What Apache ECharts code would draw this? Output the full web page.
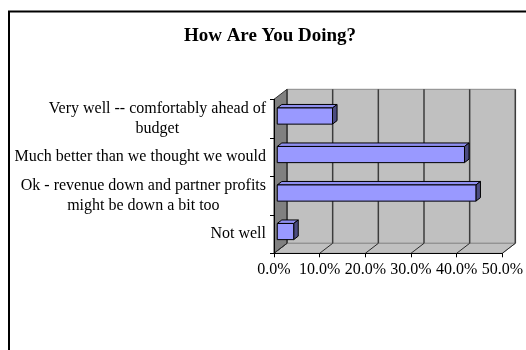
<!DOCTYPE html>
<html>
<head>
<meta charset="utf-8">
<script src="https://cdn.jsdelivr.net/npm/echarts@6/dist/echarts.min.js"></script>
<style>html,body{margin:0;padding:0;background:#fff}#c{width:526px;height:350px}</style>
</head>
<body>
<div id="c"></div>
<script>
var title = 'How Are You Doing?';
var categories = [
  'Very well -- comfortably ahead of budget',
  'Much better than we thought we would',
  'Ok - revenue down and partner profits might be down a bit too',
  'Not well'
];
var values = [0.121, 0.410, 0.435, 0.036];
var ticks = [0, 0.1, 0.2, 0.3, 0.4, 0.5];

var DX = 13, DY = -10;
var FONT = '"Liberation Serif", "Times New Roman", serif';
var LABEL_MAX = 256;

var measureCtx = document.createElement('canvas').getContext('2d');
measureCtx.font = '16px ' + FONT;
function wrapLabel(text) {
  var words = text.split(' ');
  var lines = [], cur = '';
  words.forEach(function (w) {
    var test = cur ? cur + ' ' + w : w;
    if (cur && measureCtx.measureText(test).width > LABEL_MAX) {
      lines.push(cur); cur = w;
    } else { cur = test; }
  });
  if (cur) lines.push(cur);
  return lines.map(function (l) { return '{c|' + l + '}'; }).join('\n');
}

var chart = echarts.init(document.getElementById('c'), null, {renderer: 'canvas'});

function wallsItem(params, api) {
  var cs = params.coordSys;
  var x0 = cs.x, y0 = cs.y, x1 = cs.x + cs.width, y1 = cs.y + cs.height;
  var children = [];
  var t = api.value(0);
  var p = api.coord([t, 0]);
  var x = p[0];
  if (params.dataIndex === 0) {
    children.push({type: 'rect', shape: {x: x0 + DX, y: y0 + DY, width: cs.width, height: cs.height},
      style: {fill: '#c0c0c0', stroke: '#8a8a8a', lineWidth: 1}});
    children.push({type: 'polygon', shape: {points: [[x0, y1], [x0 + DX, y1 + DY], [x1 + DX, y1 + DY], [x1, y1]]},
      style: {fill: '#c0c0c0', stroke: '#8a8a8a', lineWidth: 1}});
    children.push({type: 'polygon', shape: {points: [[x0, y0], [x0 + DX, y0 + DY], [x0 + DX, y1 + DY], [x0, y1]]},
      style: {fill: '#808080', stroke: '#333', lineWidth: 1}});
  }
  children.push({type: 'line', shape: {x1: x + DX, y1: y0 + DY, x2: x + DX, y2: y1 + DY},
    style: {stroke: '#3c3c3c', lineWidth: 1.5}});
  children.push({type: 'line', shape: {x1: x, y1: y1, x2: x + DX, y2: y1 + DY},
    style: {stroke: '#2a2a2a', lineWidth: 1}});
  return {type: 'group', children: children};
}

function barItem(params, api) {
  var v = api.value(0), i = api.value(1);
  var s = api.coord([0, i]);
  var e = api.coord([v, i]);
  var band = api.size([0, 1])[1];
  var h = band * 0.42;
  var d0 = 0.25, dd = 0.35;
  var x0 = s[0] + DX * d0, x1 = e[0] + DX * d0;
  var yc = s[1] + DY * d0;
  var y0 = yc - h / 2, y1 = yc + h / 2;
  var ddx = DX * dd, ddy = DY * dd;
  return {type: 'group', children: [
    {type: 'polygon', shape: {points: [[x0, y0], [x0 + ddx, y0 + ddy], [x1 + ddx, y0 + ddy], [x1, y0]]},
      style: {fill: '#8f8ff0', stroke: '#000', lineWidth: 1}},
    {type: 'polygon', shape: {points: [[x1, y0], [x1 + ddx, y0 + ddy], [x1 + ddx, y1 + ddy], [x1, y1]]},
      style: {fill: '#4c4c80', stroke: '#000', lineWidth: 1}},
    {type: 'rect', shape: {x: x0, y: y0, width: x1 - x0, height: h},
      style: {fill: '#9999ff', stroke: '#000', lineWidth: 1}}
  ]};
}

chart.setOption({
  animation: false,
  backgroundColor: '#fff',
  title: {
    text: title, left: 265, top: 22, textAlign: 'center',
    textStyle: {fontFamily: FONT, fontWeight: 'bold', fontSize: 19, color: '#000'}
  },
  graphic: [{type: 'rect', silent: true, z: 100,
    shape: {x: 9, y: 11.5, width: 560, height: 380},
    style: {fill: 'none', stroke: '#000', lineWidth: 2}}],
  grid: {left: 274, top: 99.3, width: 231, height: 154, containLabel: false},
  xAxis: {
    type: 'value', min: 0, max: 0.5, interval: 0.1, z: 10,
    axisLine: {show: true, lineStyle: {color: '#000', width: 1}},
    axisTick: {show: true, length: 4, lineStyle: {color: '#000'}},
    splitLine: {show: false},
    axisLabel: {
      margin: 8, color: '#000', fontFamily: FONT, fontSize: 16,
      formatter: function (v) { return (v * 100).toFixed(1) + '%'; }
    }
  },
  yAxis: {
    type: 'category', data: categories, inverse: true, z: 10,
    axisLine: {show: true, lineStyle: {color: '#000', width: 1}},
    axisTick: {show: true, length: 4, lineStyle: {color: '#000'}},
    splitLine: {show: false},
    axisLabel: {
      margin: 8, color: '#000', fontFamily: FONT, fontSize: 16, lineHeight: 20,
      align: 'right',
      formatter: wrapLabel,
      rich: {c: {align: 'center', fontFamily: FONT, fontSize: 16, lineHeight: 20, color: '#000'}}
    }
  },
  series: [
    {type: 'custom', z: 1, clip: false, silent: true, renderItem: wallsItem,
      data: ticks.map(function (t) { return [t, 0]; })},
    {type: 'custom', z: 3, clip: false, renderItem: barItem,
      data: values.map(function (v, i) { return [v, i]; })}
  ]
});
</script>
</body>
</html>
